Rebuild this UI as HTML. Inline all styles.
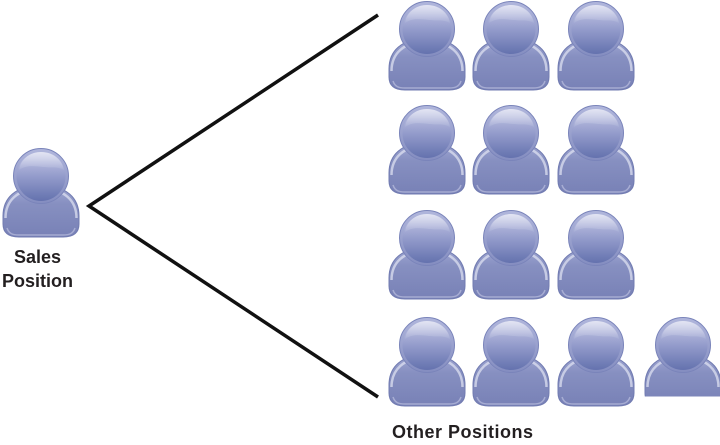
<!DOCTYPE html>
<html><head><meta charset="utf-8"><style>
html,body{margin:0;padding:0;background:#fff;}
svg{display:block;}
text{font-family:"Liberation Sans",Arial,sans-serif;font-weight:bold;fill:#231f20;}
</style></head><body>
<svg width="720" height="445" viewBox="0 0 720 445" xmlns="http://www.w3.org/2000/svg">
<defs>
 <linearGradient id="bg" x1="0" y1="0" x2="0" y2="1">
  <stop offset="0" stop-color="#a3aad4"/>
  <stop offset="0.35" stop-color="#8790c1"/>
  <stop offset="1" stop-color="#7881b6"/>
 </linearGradient>
 <linearGradient id="hr" x1="0" y1="0" x2="0" y2="1">
  <stop offset="0" stop-color="#b0b6dc"/>
  <stop offset="1" stop-color="#848dc0"/>
 </linearGradient>
 <linearGradient id="hi" x1="0" y1="0" x2="0" y2="1">
  <stop offset="0" stop-color="#c6cae7"/>
  <stop offset="0.5" stop-color="#939bcb"/>
  <stop offset="1" stop-color="#6472ae"/>
 </linearGradient>
 <linearGradient id="gl" x1="0" y1="0" x2="0" y2="1">
  <stop offset="0" stop-color="#ffffff" stop-opacity="0.5"/>
  <stop offset="1" stop-color="#ffffff" stop-opacity="0.05"/>
 </linearGradient>
 <g id="p">
  <path d="M0,68 C0,50 12,38 38,37 C64,38 76,50 76,68 L76,76 C76,85 70,89 60,89 L16,89 C6,89 0,85 0,76 Z" fill="url(#bg)" stroke="#717bb1" stroke-width="1"/>
  <path d="M2.5,70 C2.5,53 14,41 38,40 C62,41 73.5,53 73.5,70" fill="none" stroke="#e3e6f4" stroke-opacity="0.7" stroke-width="2.5"/>
  <path d="M4,80 C6,86 10,87 16,87 L60,87 C66,87 70,86 72,80" fill="none" stroke="#c4c8e4" stroke-opacity="0.6" stroke-width="1.5"/>
  <circle cx="38" cy="28" r="27.5" fill="url(#hr)" stroke="#7a84ba" stroke-width="1"/>
  <circle cx="38" cy="28.5" r="24.5" fill="url(#hi)"/>
  <path d="M16,22 C18,10 28,4 38,4 C50,4 59,11 61,22 C54,18 48,20 40,19 C30,18 24,17 16,22 Z" fill="url(#gl)"/>
 </g>
 <clipPath id="c4"><rect x="0" y="0" width="720" height="396.5"/></clipPath>
</defs>

<polyline points="378,15 89,206 378,397" fill="none" stroke="#111" stroke-width="3.5" stroke-linejoin="miter"/>

<use href="#p" x="3" y="148"/>
<text x="37.5" y="263" font-size="18" text-anchor="middle">Sales</text>
<text x="37.5" y="287" font-size="18" text-anchor="middle">Position</text>

<use href="#p" x="389" y="1"/>
<use href="#p" x="473" y="1"/>
<use href="#p" x="558" y="1"/>

<use href="#p" x="389" y="105"/>
<use href="#p" x="473" y="105"/>
<use href="#p" x="558" y="105"/>

<use href="#p" x="389" y="210"/>
<use href="#p" x="473" y="210"/>
<use href="#p" x="558" y="210"/>

<use href="#p" x="389" y="317"/>
<use href="#p" x="473" y="317"/>
<use href="#p" x="558" y="317"/>
<g clip-path="url(#c4)"><use href="#p" x="645" y="317"/></g>

<text x="392" y="438" font-size="18" letter-spacing="0.5">Other Positions</text>
</svg>
</body></html>
